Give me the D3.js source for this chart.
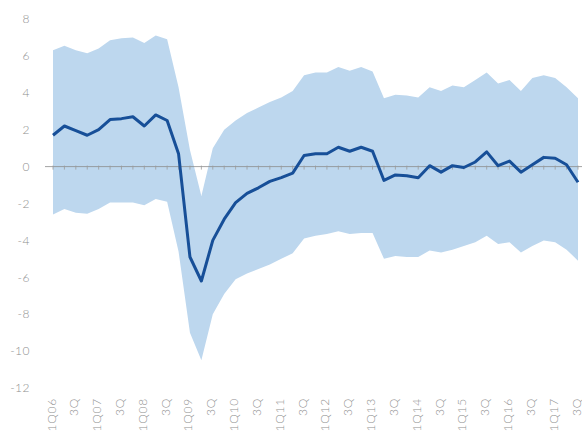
<!DOCTYPE html>
<html>
<head>
<meta charset="utf-8">
<script src="https://cdn.jsdelivr.net/npm/d3@7"></script>
<style>
  html, body { margin: 0; padding: 0; background: #fff; }
  svg { display: block; }
  text { font-family: Lato, "Open Sans", sans-serif; font-weight: 300; fill: #8f8f8f; }
</style>
</head>
<body>
<svg id="chart" width="582" height="436"></svg>
<script>
// Quarterly series, 1Q06 .. 3Q17
const quarters = [
  "1Q06","2Q06","3Q06","4Q06","1Q07","2Q07","3Q07","4Q07",
  "1Q08","2Q08","3Q08","4Q08","1Q09","2Q09","3Q09","4Q09",
  "1Q10","2Q10","3Q10","4Q10","1Q11","2Q11","3Q11","4Q11",
  "1Q12","2Q12","3Q12","4Q12","1Q13","2Q13","3Q13","4Q13",
  "1Q14","2Q14","3Q14","4Q14","1Q15","2Q15","3Q15","4Q15",
  "1Q16","2Q16","3Q16","4Q16","1Q17","2Q17","3Q17"
];

// Central estimate
const central = [
  1.7, 2.2, 1.95, 1.7, 2.0, 2.55, 2.6, 2.7,
  2.2, 2.8, 2.5, 0.7, -4.9, -6.2, -4.0, -2.85,
  -1.95, -1.45, -1.15, -0.8, -0.6, -0.35, 0.6, 0.7,
  0.7, 1.05, 0.83, 1.05, 0.83, -0.75, -0.45, -0.5,
  -0.6, 0.05, -0.3, 0.05, -0.05, 0.25, 0.8, 0.05,
  0.3, -0.3, 0.1, 0.5, 0.45, 0.1, -0.85
];

// Upper edge of the range
const upper = [
  6.3, 6.55, 6.3, 6.15, 6.4, 6.85, 6.95, 7.0,
  6.7, 7.1, 6.9, 4.3, 0.9, -1.6, 1.0, 2.0,
  2.5, 2.9, 3.2, 3.5, 3.75, 4.1, 4.95, 5.1,
  5.1, 5.4, 5.2, 5.4, 5.15, 3.7, 3.9, 3.85,
  3.75, 4.3, 4.1, 4.4, 4.3, 4.7, 5.1, 4.5,
  4.7, 4.1, 4.8, 4.95, 4.8, 4.3, 3.7
];

// Lower edge of the range
const lower = [
  -2.6, -2.3, -2.5, -2.55, -2.3, -1.95, -1.95, -1.95,
  -2.1, -1.75, -1.9, -4.6, -9.0, -10.5, -8.0, -6.9,
  -6.1, -5.8, -5.55, -5.3, -5.0, -4.7, -3.9, -3.75,
  -3.65, -3.5, -3.65, -3.6, -3.6, -5.0, -4.85, -4.9,
  -4.9, -4.55, -4.65, -4.5, -4.3, -4.1, -3.75, -4.2,
  -4.1, -4.65, -4.3, -4.0, -4.1, -4.5, -5.1
];

const yTicks = [8, 6, 4, 2, 0, -2, -4, -6, -8, -10, -12];

// Axis label for every second quarter: full label on 1Q, "3Q" otherwise
const xLabels = quarters.map((q, i) => i % 2 === 0 ? (q.startsWith("1Q") ? q : "3Q") : null);

const svg = d3.select("#chart");

const x = d3.scaleLinear().domain([0, quarters.length - 1]).range([53, 578]);
const y = d3.scaleLinear().domain([-12, 8]).range([388, 19]);

const rows = quarters.map((q, i) => ({ i, c: central[i], u: upper[i], l: lower[i] }));

// Range band
svg.append("path")
  .datum(rows)
  .attr("fill", "#bdd7ee")
  .attr("d", d3.area().x(d => x(d.i)).y0(d => y(d.l)).y1(d => y(d.u)));

// Zero line with quarter ticks
svg.append("line")
  .attr("x1", 45).attr("x2", 582)
  .attr("y1", y(0)).attr("y2", y(0))
  .attr("stroke", "#8c8c8c").attr("stroke-width", 0.8);

svg.append("g")
  .selectAll("line")
  .data(rows)
  .join("line")
  .attr("x1", d => x(d.i)).attr("x2", d => x(d.i))
  .attr("y1", y(0) - 1).attr("y2", y(0) + 3)
  .attr("stroke", "#9a9a9a").attr("stroke-width", 0.8);

// Central line
svg.append("path")
  .datum(rows)
  .attr("fill", "none")
  .attr("stroke", "#174f98")
  .attr("stroke-width", 3)
  .attr("stroke-linejoin", "round")
  .attr("d", d3.line().x(d => x(d.i)).y(d => y(d.c)));

// Y-axis labels
svg.append("g")
  .selectAll("text")
  .data(yTicks)
  .join("text")
  .attr("x", 30)
  .attr("y", d => y(d))
  .attr("dy", "0.35em")
  .attr("text-anchor", "end")
  .attr("font-size", 12)
  .attr("letter-spacing", 0.5)
  .text(d => d);

// X-axis labels, rotated
svg.append("g")
  .selectAll("text")
  .data(rows.filter(d => xLabels[d.i]))
  .join("text")
  .attr("transform", d => `translate(${x(d.i) + 2.5},398) rotate(-90)`)
  .attr("text-anchor", "end")
  .attr("font-size", 12)
  .attr("letter-spacing", 0.8)
  .text(d => xLabels[d.i]);
</script>
</body>
</html>
